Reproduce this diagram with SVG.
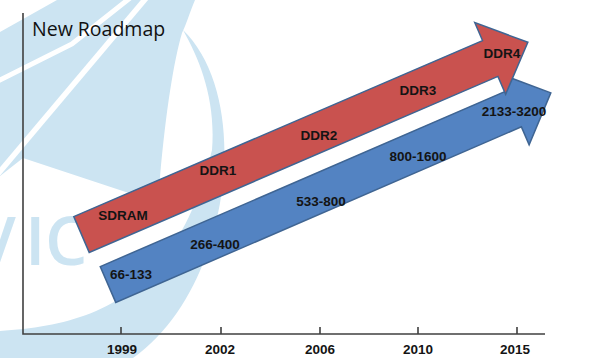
<svg xmlns="http://www.w3.org/2000/svg" width="600" height="358" viewBox="0 0 600 358">
  <style>
    .wm { fill: #cce4f2; }
    .wmline { fill: none; stroke: #ffffff; stroke-linejoin: miter; }
    .axis { stroke: #404040; stroke-width: 1.6; fill: none; }
    .arrow { stroke: #3f6593; stroke-width: 1.5; stroke-linejoin: miter; }
    .red { fill: #c9524f; }
    .blue { fill: #5383c2; }
    .lbl { font-family: "Liberation Sans", Arial, sans-serif; font-weight: bold; font-size: 13.5px; fill: #141414; text-anchor: middle; }
    .yr { font-family: "Liberation Sans", Arial, sans-serif; font-weight: bold; font-size: 13.5px; fill: #141414; text-anchor: middle; }
    .title { font-family: "Open Sans", "Liberation Sans", sans-serif; font-size: 19.5px; fill: #111111; }
  </style>
  <rect x="0" y="0" width="600" height="358" fill="#ffffff"/>

  <g id="watermark">
    <path class="wm" d="M0,32 L57,0 L195,0 C190,12 186,25 182,33 C174,60 166,110 160,177 L156,202 L23,158 L0,176 Z"/>
    <path class="wm" d="M183,30 C255,100 230,290 133,358 L0,358 L0,331 C90,325 175,300 212,150 C216,100 200,60 183,30 Z"/>
    <polyline class="wmline" stroke-width="5" points="-2,81 72,44 130,-2"/>
    <line class="wmline" stroke-width="5.5" x1="147" y1="-3" x2="-3" y2="175"/>
    <text font-family="'Open Sans', 'Liberation Sans', sans-serif" font-weight="600" font-size="67" fill="#cce4f2"><tspan x="-26" y="265">V</tspan><tspan x="25" y="265">I</tspan><tspan x="45" y="265">C</tspan></text>
  </g>

  <g id="title">
    <text class="title" x="32" y="36">New Roadmap</text>
  </g>

  <g id="axes">
    <path class="axis" d="M23,13 L23,334 L545,334"/>
    <path class="axis" d="M121,327 V334 M221,327 V334 M320,327 V334 M418,327 V334 M517,327 V334"/>
  </g>

  <g id="years">
    <text class="yr" x="122" y="354">1999</text>
    <text class="yr" x="220" y="354">2002</text>
    <text class="yr" x="320" y="354">2006</text>
    <text class="yr" x="418" y="354">2010</text>
    <text class="yr" x="515" y="354">2015</text>
  </g>

  <g id="arrow-speed">
    <polygon class="arrow blue" transform="translate(108,284.5) rotate(-23.4)" points="0,-19.5 442,-19.5 442,-39 482.5,0 442,39 442,19.5 0,19.5"/>
    <text class="lbl" x="131" y="279">66-133</text>
    <text class="lbl" x="215" y="249">266-400</text>
    <text class="lbl" x="321" y="206">533-800</text>
    <text class="lbl" x="418" y="161">800-1600</text>
    <text class="lbl" x="514" y="116">2133-3200</text>
  </g>

  <g id="arrow-ddr">
    <polygon class="arrow red" transform="translate(81.5,234.5) rotate(-23.3)" points="0,-19.5 445,-19.5 445,-39 486,0 445,39 445,19.5 0,19.5"/>
    <text class="lbl" x="123" y="220">SDRAM</text>
    <text class="lbl" x="218" y="175">DDR1</text>
    <text class="lbl" x="319" y="140">DDR2</text>
    <text class="lbl" x="418" y="95">DDR3</text>
    <text class="lbl" x="502" y="58">DDR4</text>
  </g>

  <g id="connectors"></g>
</svg>
